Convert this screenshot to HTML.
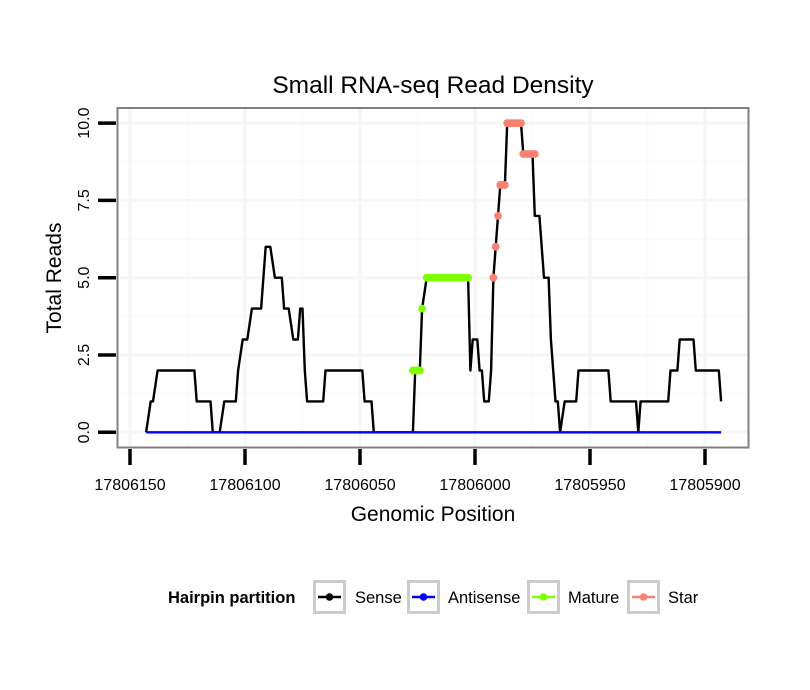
<!DOCTYPE html>
<html><head><meta charset="utf-8"><style>
html,body{margin:0;padding:0;background:#fff;}
svg{display:block;font-family:"Liberation Sans",Arial,sans-serif;}
</style></head><body>
<svg id="chart" width="810" height="690" viewBox="0 0 810 690" xmlns="http://www.w3.org/2000/svg">
<rect x="0" y="0" width="810" height="690" fill="#fff"/>
<text x="433" y="93" text-anchor="middle" font-size="24.5" fill="#000">Small RNA-seq Read Density</text>
<g id="grid"></g>
<g id="series"></g>
<rect x="117.5" y="108" width="631" height="339.5" fill="none" stroke="#808080" stroke-width="2"/>
<g id="axes"></g>
<text x="433" y="521" text-anchor="middle" font-size="21">Genomic Position</text>
<text transform="translate(61,278) rotate(-90)" text-anchor="middle" font-size="21">Total Reads</text>
<g>
<text x="168" y="603" font-size="16.5" font-weight="bold">Hairpin partition</text>
<g><rect x="314.5" y="581.5" width="30" height="31" fill="#fff" stroke="#ccc" stroke-width="3"/><line x1="318" y1="597" x2="341" y2="597" stroke="#000" stroke-width="2.5"/><circle cx="329.5" cy="597" r="3.8" fill="#000"/><text x="355" y="603" font-size="16.5">Sense</text></g>
<g><rect x="408.5" y="581.5" width="30" height="31" fill="#fff" stroke="#ccc" stroke-width="3"/><line x1="412" y1="597" x2="435" y2="597" stroke="#0000ff" stroke-width="2.5"/><circle cx="423.5" cy="597" r="3.8" fill="#0000ff"/><text x="448" y="603" font-size="16.5">Antisense</text></g>
<g><rect x="528.5" y="581.5" width="30" height="31" fill="#fff" stroke="#ccc" stroke-width="3"/><line x1="532" y1="597" x2="555" y2="597" stroke="#7fff00" stroke-width="2.5"/><circle cx="543.5" cy="597" r="3.8" fill="#7fff00"/><text x="568" y="603" font-size="16.5">Mature</text></g>
<g><rect x="628.5" y="581.5" width="30" height="31" fill="#fff" stroke="#ccc" stroke-width="3"/><line x1="632" y1="597" x2="655" y2="597" stroke="#fa8072" stroke-width="2.5"/><circle cx="643.5" cy="597" r="3.8" fill="#fa8072"/><text x="668" y="603" font-size="16.5">Star</text></g>
</g>
</svg>
<script>
const senseX=[17806143,17806141,17806140,17806138,17806122,17806121,17806115,17806114,17806111,17806109,17806104,17806103,17806101,17806099,17806097,17806093,17806091,17806089,17806087,17806084,17806083,17806081,17806079,17806077,17806076,17806075,17806074,17806073,17806066,17806065,17806049,17806048,17806045,17806044,17806027,17806026,17806024,17806023,17806021,17806003,17806002,17806001,17805999,17805998,17805997,17805996,17805994,17805993,17805992,17805991,17805990,17805989,17805987,17805986,17805980,17805979,17805975,17805974,17805972,17805970,17805968,17805967,17805965,17805964,17805963,17805961,17805956,17805955,17805942,17805941,17805930,17805929,17805928,17805916,17805915,17805912,17805911,17805905,17805904,17805894,17805893];
const senseY=[0,1,1,2,2,1,1,0,0,1,1,2,3,3,4,4,6,6,5,5,4,4,3,3,4,4,2,1,1,2,2,1,1,0,0,2,2,4,5,5,2,3,3,2,2,1,1,2,5,6,7,8,8,10,10,9,9,7,7,5,5,3,1,1,0,1,1,2,2,1,1,0,1,1,2,2,3,3,2,2,1];
const antisenseX=[17806143,17805893];
const antisenseY=[0,0];
const matureX=[17806027,17806026,17806025,17806024,17806023,17806021,17806020,17806019,17806018,17806017,17806016,17806015,17806014,17806013,17806012,17806011,17806010,17806009,17806008,17806007,17806006,17806005,17806004,17806003];
const matureY=[2,2,2,2,4,5,5,5,5,5,5,5,5,5,5,5,5,5,5,5,5,5,5,5];
const starX=[17805992,17805991,17805990,17805989,17805988,17805987,17805986,17805985,17805984,17805983,17805982,17805981,17805980,17805979,17805978,17805977,17805976,17805975,17805974];
const starY=[5,6,7,8,8,8,10,10,10,10,10,10,10,9,9,9,9,9,9];
const xTicks=[17806150,17806100,17806050,17806000,17805950,17805900];
const yTicks=[0,2.5,5,7.5,10];
const yTickLabels=["0.0","2.5","5.0","7.5","10.0"];

const NS="http://www.w3.org/2000/svg";
function xs(v){return 130+(17806150-v)*2.3;}
function ys(v){return 432.3-v*30.92;}
function mk(tag,attrs,parent){const e=document.createElementNS(NS,tag);for(const k in attrs)e.setAttribute(k,attrs[k]);parent.appendChild(e);return e;}
const grid=document.getElementById('grid'),series=document.getElementById('series'),axes=document.getElementById('axes');
for(let i=0;i<xTicks.length-1;i++){const m=(xTicks[i]+xTicks[i+1])/2;const l=mk('line',{x1:xs(m),x2:xs(m),y1:108,y2:447,stroke:'#fbfbfb','stroke-width':2},grid);

}
for(let i=0;i<yTicks.length-1;i++){const m=(yTicks[i]+yTicks[i+1])/2;const l=mk('line',{x1:118,x2:748,y1:ys(m),y2:ys(m),stroke:'#fbfbfb','stroke-width':2},grid);

}
xTicks.forEach(t=>{const l=mk('line',{x1:xs(t),x2:xs(t),y1:108,y2:447,stroke:'#f6f6f6','stroke-width':3},grid);


const tk=mk('line',{x1:xs(t),x2:xs(t),y1:449,y2:465,stroke:'#000','stroke-width':3.5},axes);


const tx=mk('text',{x:xs(t),y:490,'text-anchor':'middle','font-size':16},axes);tx.textContent=t;

});
yTicks.forEach((t,i)=>{const l=mk('line',{x1:118,x2:748,y1:ys(t),y2:ys(t),stroke:'#f6f6f6','stroke-width':3},grid);


const tk=mk('line',{x1:98,x2:116,y1:ys(t),y2:ys(t),stroke:'#000','stroke-width':3.5},axes);


const tx=mk('text',{transform:`translate(89,${ys(t)}) rotate(-90)`,'text-anchor':'middle','font-size':16},axes);tx.textContent=yTickLabels[i];

});
function line(X,Y,color,name){const d=X.map((x,i)=>(i?'L':'M')+xs(x).toFixed(1)+','+ys(Y[i]).toFixed(1)).join('');
const p=mk('path',{d:d,fill:'none',stroke:color,'stroke-width':2.4,'stroke-linejoin':'round'},series);

}
line(senseX,senseY,'#000','sense-line');
line(antisenseX,antisenseY,'#0000ff','antisense-line');
function pts(X,Y,color,name){X.forEach((x,i)=>{const c=mk('circle',{cx:xs(x),cy:ys(Y[i]),r:3.9,fill:color},series);

});}
pts(matureX,matureY,'#7fff00','mature-point');
pts(starX,starY,'#fa8072','star-point');
</script>
</body></html>
